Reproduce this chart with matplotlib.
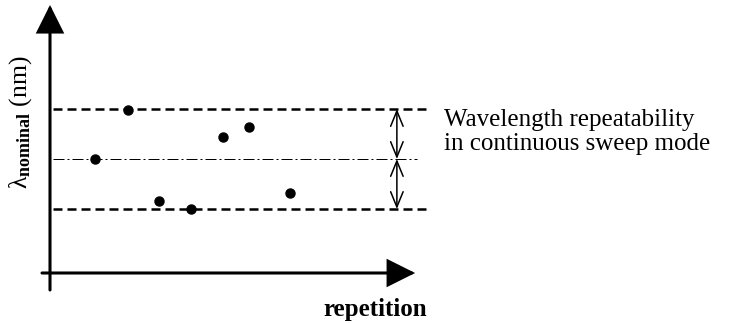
import matplotlib
matplotlib.use("Agg")
import matplotlib.pyplot as plt
from matplotlib.patches import FancyArrowPatch, ArrowStyle

plt.rcParams['font.family'] = ['Liberation Serif', 'DejaVu Serif']
plt.rcParams['mathtext.fontset'] = 'custom'
plt.rcParams['mathtext.rm'] = 'Liberation Serif'
plt.rcParams['mathtext.bf'] = 'Liberation Serif:bold'
plt.rcParams['mathtext.it'] = 'Liberation Serif:italic'

# measured wavelength per repetition (units of the repeatability band half-width)
repetition = [1.41, 2.44, 3.41, 4.41, 5.41, 6.22, 7.5]
wavelength = [0.0, 0.98, -0.84, -1.0, 0.44, 0.64, -0.68]
nominal = 0.0
band = [1.0, -1.0]

x_label = "repetition"
y_label = r"$\mathrm{λ}_{\mathbf{nominal}}$ (nm)"
note_lines = ["Wavelength repeatability", "in continuous sweep mode"]

W, H, DPI = 732, 323, 100
fig = plt.figure(figsize=(W / DPI, H / DPI), dpi=DPI)
ax = fig.add_axes([0, 0, 1, 1])
ax.axis('off')
# 32 px per repetition, 50 px per band unit; origin of the y axis at px x=50
ax.set_xlim(-50 / 32, (W - 50) / 32)
ax.set_ylim((159 - H) / 50, 159 / 50)

x0, y_axis = 0.0, -2.28
x_end, y_top = 11.41, 3.08

head = ArrowStyle('-|>', head_length=17, head_width=8.5)
ax.add_patch(FancyArrowPatch((x0, -2.62), (x0, y_top), arrowstyle=head,
                             mutation_scale=1, lw=2.2, color='black',
                             shrinkA=0, shrinkB=0, joinstyle='miter'))
ax.add_patch(FancyArrowPatch((-0.25, y_axis), (x_end, y_axis), arrowstyle=head,
                             mutation_scale=1, lw=2.2, color='black',
                             shrinkA=0, shrinkB=0, joinstyle='miter'))

for b in band:
    ax.plot([0.09, 11.78], [b, b], color='black', lw=1.8,
            dashes=(3.6, 2.0), solid_capstyle='butt', dash_capstyle='butt')
ax.plot([0.09, 11.47], [nominal, nominal], color='black', lw=0.72,
        dashes=(11, 3, 2, 3))

ax.plot(repetition, wavelength, 'o', color='black', ms=6.5, zorder=5)

dbl = ArrowStyle('<->', head_length=11, head_width=4.5)
xa = 10.84
for b in band:
    ax.add_patch(FancyArrowPatch((xa, b), (xa, nominal), arrowstyle=dbl,
                                 mutation_scale=1, lw=1.1, color='black',
                                 shrinkA=0, shrinkB=0))

ax.text(12.31, (159 - 126) / 50, note_lines[0], fontsize=18, va='baseline', ha='left')
ax.text(12.31, (159 - 150) / 50, note_lines[1], fontsize=18, va='baseline', ha='left')

ax.text((375 - 50) / 32, (159 - 316) / 50, x_label, fontsize=18, fontweight='bold',
        ha='center', va='baseline')
ax.text((21 - 50) / 32, (159 - 122) / 50, y_label, fontsize=18.5, rotation=90,
        ha='center', va='center')

fig.savefig('out.png', dpi=DPI)
